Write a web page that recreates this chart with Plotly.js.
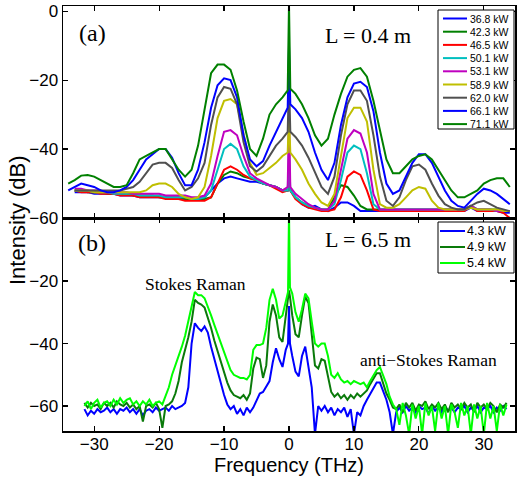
<!DOCTYPE html>
<html>
<head>
<meta charset="utf-8">
<script src="https://cdn.plot.ly/plotly-3.0.1.min.js"></script>
<style>
html,body{margin:0;padding:0;background:#fff;}
#chart{width:517px;height:477px;}
</style>
</head>
<body>
<div id="chart"></div>
<script>
// ---------- Panel (a): L = 0.4 m ----------
const FREQ_A = [-34,-33,-32,-31,-30,-29,-28,-27,-26,-25,-24,-23,-22,-21,-20,-19,-18,-17,-16,-15,-14,-13,-12,-11,-10,-9,-8,-7,-6,-5,-4,-3,-2,-1,-0.2,0,0.2,1,2,3,4,5,6,7,8,9,10,11,12,13,14,15,16,17,18,19,20,21,22,23,24,25,26,27,28,29,30,31,32,33,34];

const P36_8 = [null,-52.5,-52.5,-52.5,-53,-53,-53,-53,-53.5,-53.5, -53.5,-54,-54,-54,-54,-54,-54.5,-54.5,-54.5,-54.5, -54.5,-54,-52,-50,-48.5,-48,-48.5,-49,-49.5,-49.5, -50,-50.5,-51,-52, -52,-50,-52, -54,-56,-57,-56.5,-57.5,-58,-57,-55.5,-55.5,-56.5, -58,-58,-58,-58,-58,-58,-58,-58,-58,-58, -58,-58,-58,-58,-58,-58,-58,-57,-58,-58, -58,-58,-58.5,-58.5];
const P42_3 = [null,-52,-52,-52.5,-52.5,-52.5,-53,-53,-53,-53, -53.5,-53.5,-53.5,-53.5,-54,-54,-54,-54,-54.5,-54.5, -54.5,-54.5,-54,-50,-47.5,-46.5,-47,-48,-48.5,-49, -50,-50.5,-51,-52, -52,-48,-52, -54,-55.5,-56.5,-57,-57.5,-57.5,-54,-50.5,-51,-53.5, -56.5,-57.5,-57.5,-57.5,-57.5,-57.5,-57.5,-57.5,-57.5,-57.5, -57.5,-57.5,-57.5,-57.5,-57.5,-57.5,-57.5,-56.5,-57.5,-57.5, -57.5,-57.5,-58,-58];
const P46_5 = [null,-52,-52.5,-52.5,-52.5,-53,-53,-53,-53.5,-53.5, -53.5,-54,-54,-54,-54,-54.5,-54.5,-54.5,-55,-55, -55,-55,-54,-50,-46,-45,-46,-47.5,-48.5,-49, -50,-50.5,-51.5,-52.5, -52,-45,-52, -54.5,-56,-57,-57.5,-58,-58,-57.5,-54,-48,-46.5, -47.5,-52,-57.5,-58,-58,-58,-58,-58,-58,-58, -58,-58,-58,-58,-58,-58,-58,-56.5,-58,-58, -58,-58,-58.5,-60];
const P50_1 = [null,-52,-52,-52,-52.5,-52.5,-52.5,-53,-53,-53, -53,-53.5,-53.5,-53.5,-53.5,-54,-54,-54,-54,-54.5, -54.5,-54,-52,-46,-40,-38.5,-40,-45,-48,-49, -50,-50.5,-51,-52, -52,-40,-52, -54,-55.5,-56.5,-57,-57.5,-57.5,-56,-49,-41,-39, -40,-47,-56,-57.5,-57.5,-57.5,-57.5,-57.5,-57.5,-57.5, -57.5,-57.5,-57.5,-57.5,-57.5,-57.5,-57.5,-56.5,-57.5,-57.5, -57.5,-58,-58,-58];
const P53_1 = [null,-51.5,-51.5,-52,-52,-52,-52.5,-52.5,-52.5,-52.5, -53,-53,-53,-53,-53,-53.5,-53.5,-53.5,-53.5,-54, -54,-53.5,-50,-42,-35,-34.5,-36,-42,-47,-48.5, -49.5,-50.5,-51,-52, -51,-30,-51, -53,-54.5,-56,-57,-57.5,-57.5,-55,-46,-37,-34.5, -35.5,-41,-53,-57.5,-57.5,-57.5,-57.5,-57.5,-57.5,-57.5, -57.5,-57.5,-57.5,-57.5,-57.5,-57.5,-57.5,-56.5,-57.5,-57.5, -57.5,-58,-58,-58];
const P58_9 = [null,-52,-52,-52,-52.5,-52.5,-52.5,-52.5,-52.5,-52.5, -52.5,-52.5,-52,-50.5,-50,-50,-51,-53,-54,-54.5, -54,-51,-42,-31,-26,-25.5,-27,-36,-44,-47.5, -47,-45.5,-44,-42, -41,-30,-41, -43,-46,-50,-53,-55.5,-56.5,-53,-42,-31,-28, -28,-32,-46,-56,-57,-57,-56,-54,-52,-51, -51.5,-55,-57,-57.5,-57.5,-57.5,-57.5,-57,-57.5,-57.5, -57.5,-57.5,-58,-58];
const P62_0 = [null,-52,-52,-52,-52,-52,-52,-52,-52,-51.5, -51,-49.5,-47,-44.5,-44,-44,-45.5,-49,-52,-51, -48.5,-44,-33,-25,-22,-22.5,-27,-38,-45,-46.5, -45,-42,-39,-37, -35,-20,-35, -36.5,-39,-42.5,-47,-51,-53,-48,-36,-27,-23, -23,-26,-36,-48,-55,-56.5,-54,-49,-45,-44.5, -46,-50,-53.5,-56,-57,-57.5,-57.5,-56.5,-55.5,-55, -56,-57,-57.5,-58];
const P66_1 = [-52,-51,-50,-50.5,-51,-52,-52.5,-52.5,-52,-51, -49,-46,-43,-41.5,-40,-40,-42.5,-47,-50.5,-50.5, -46,-38,-28,-21.5,-19.5,-20,-25,-36,-43,-45, -43.5,-39,-35,-31, -28,-10,-27, -28.5,-31,-35,-41,-46,-49,-44,-33,-25,-21, -20.5,-22,-29,-41,-50,-53,-52,-48,-44,-41.5, -41.5,-44,-48,-52,-55,-56.5,-57,-55,-53,-51.5, -52,-53,-54.5,-56];
const P71_1 = [-50,-49,-47.7,-47.5,-48,-49,-50,-51,-51,-50.5, -47,-43,-42,-41,-40,-40,-43,-46,-48,-46, -39,-28,-18,-15.5,-15.5,-17,-23,-32,-40,-42, -37,-30,-27,-25, -23,2,-22.5, -24,-27,-31,-36,-39,-37,-30,-24,-19,-17, -16.5,-19,-26,-35,-43,-47,-47,-45,-43,-42, -41.5,-43,-46,-49,-52,-54,-54,-53,-52,-50, -49,-48.5,-48.5,-51];

const LABELS_A = ['36.8 kW','42.3 kW','46.5 kW','50.1 kW','53.1 kW','58.9 kW','62.0 kW','66.1 kW','71.1 kW'];
const COLORS_A = ['#0000ff','#008000','#ff0000','#00bfbf','#bf00bf','#bfbf00','#505050','#0000ff','#008000'];
const SERIES_A = [P36_8,P42_3,P46_5,P50_1,P53_1,P58_9,P62_0,P66_1,P71_1];

// ---------- Panel (b): L = 6.5 m ----------
const FREQ_B = [-31.5,-31,-30.5,-30,-29.5,-29,-28.5,-28,-27.5,-27,-26.5,-26,-25.5,-25,-24.5,-24,-23.5,-23,-22.5,-22,-21.5,-21,-20.5,-20,-19.5,
 -19,-18.5,-18,-17.5,-17,-16.5,-16,-15.5,-15,-14.5,-14,-13.5,-13,-12.5,-12,-11.5,-11,-10.5,-10,-9.5,-9,-8.5,-8,-7.5,-7,-6.5,-6,-5.5,-5,-4.5,-4,-3.5,-3,-2.5,-2,-1.5,-1,-0.5,
 -0.15,0,0.15,
 0.5,1,1.5,2,2.5,3,3.5,4,4.5,5,5.5,6,6.5,7,7.5,8,8.5,9,9.5,10,10.5,11,11.5,12,12.5,13,13.5,14,14.5,15,15.5,16,16.5,17,17.5,18,18.5,19,19.5,20,
 20.5,21,21.5,22,22.5,23,23.5,24,24.5,25,25.5,26,26.5,27,27.5,28,28.5,29,29.5,30,30.5,31,31.5,32,32.5,33,33.5];

const B4_3 = [-61,-63,-61.5,-62.5,-61,-62,-61.5,-60.5,-62,-61,-62.5,-61,-61.5,-60.5,-62,-61,-62.5,-61,-63,-61.5,-61,-62,-60.5,-61.5,-61,
 -60.5,-61.5,-60,-61,-60.5,-60,-59,-54,-40,-33.5,
 -35,-36,-34.5,-36.5,-41,-45,-49,-53,-56.5,-59.5,
 -61,-60,-62.5,-61,-63,-60.5,-62,-60.5,-58,-56,
 -55.5,-53.5,-52,-46,-41.5,-45,-47.5,-42,
 -40,-28,-40,
 -44,-49,-50.5,-44,-41,-47,-54,-69,-60,-61.5,
 -60,-62,-60.5,-63,-61,-62,-60.5,-63.5,-61,-69,
 -62,-63,-60,-58,-56,-54.5,-52.5,-52.5,-55,-58,
 -62,-69,-62,-60.5,-62,-60,-61.5,-60.5,-62,-60,
 -61,-60.5,-62.5,-60,-61.5,-60.5,-62,-60,-61.5,-60.5,
 -62,-60.5,-61,-60,-62,-60.5,-61.5,-60,-62,-60.5,
 -61,-60,-62,-60.5,-61.5,-60,-61];
const B4_9 = [-59,-60.5,-59,-60,-59.5,-61,-59,-60,-59,-60.5,-58.5,-59.5,-60,-59,-60.5,-59.5,-61,-60,-65,-60,-59.5,-60.5,-59,-61,-67,
 -60,-59.5,-58.5,-56,-52,-46,-42,-38,-33,-26,
 -27,-27.5,-28.5,-31.5,-35,-39,-42.5,-46,-49.5,-52.5,
 -55,-56.5,-57,-57.5,-56.5,-58,-56,-48,-44.5,-45,
 -51,-47,-33,-27.5,-31,-38,-39.5,-32,
 -25,-23,-25,
 -31,-37,-38,-31,-25,-27,-36,-47,-48,-45,
 -45.5,-51,-55.5,-57,-56,-57.5,-56.5,-58,-56.5,-57.5,
 -56,-57,-56,-55,-53,-51,-49.5,-49.5,-53,-56,
 -58,-60.5,-61,-59.5,-62,-59,-60.5,-59,-61.5,-59.5,
 -60,-58.5,-61,-59.5,-60.5,-59,-61,-59.5,-62,-59,
 -60.5,-59.5,-61,-59,-60.5,-59.5,-62,-59,-60.5,-59.5,
 -61,-59,-60,-62,-59.5,-60.5,-59];
const B5_4 = [-60,-58.5,-61,-59,-58,-60.5,-59,-58.5,-60,-58,-59.5,-57.5,-59,-58,-57.5,-59.5,-58.5,-60,-58.5,-59.5,-58,-60,-59,-58.5,-59.5,
 -57,-54,-50,-47,-44.5,-41,-37.5,-33,-29,-23.5,
 -24.5,-24.5,-25.5,-28,-31,-34,-37,-40,-43,-46,
 -48.5,-50,-50.5,-51,-51,-51.5,-50,-42,-40.5,-40.5,
 -40,-35,-26,-22.5,-26,-32,-31,-26,
 -23.5,2,-22,
 -24,-30,-33,-29,-24,-25.5,-33,-40,-41,-40,
 -40,-44,-50,-51,-49.5,-51.5,-52.5,-52,-53,-52,
 -52.5,-53,-52.5,-54,-52,-50,-48.5,-47.5,-50,-53,
 -57,-59.5,-61,-66,-59,-63,-69,-59.5,-64,-60,
 -69,-59,-63,-60,-68,-59,-64,-60,-69,-59.5,
 -62,-67,-59,-63,-60,-69,-59.5,-64,-60,-69,
 -59,-64,-60,-68,-59.5,-63,-59.5];

const LABELS_B = ['4.3 kW','4.9 kW','5.4 kW'];
const COLORS_B = ['#0000ff','#0a7a0a','#00ff00'];
const SERIES_B = [B4_3,B4_9,B5_4];

const X_TICKS = [-30,-20,-10,0,10,20,30];

// ---------- geometry helpers (pixel -> paper) ----------
const L = 63, R = 515, T = 6, B = 431;
const px = x => (x - L) / (R - L);
const py = y => (B - y) / (B - T);
const SPLIT = py(218);

const traces = [];
SERIES_A.forEach((s, i) => traces.push({
  x: FREQ_A, y: s, type: 'scatter', mode: 'lines', xaxis: 'x', yaxis: 'y',
  name: LABELS_A[i], showlegend: false, line: {color: COLORS_A[i], width: 2}
}));
SERIES_B.forEach((s, i) => traces.push({
  x: FREQ_B, y: s, type: 'scatter', mode: 'lines', xaxis: 'x2', yaxis: 'y2',
  name: LABELS_B[i], showlegend: false, line: {color: COLORS_B[i], width: 2}
}));

const sans = 'Liberation Sans, Arial, Helvetica, sans-serif';
const serif = 'Liberation Serif, Times New Roman, serif';

const axisCommon = {
  showline: true, linecolor: '#000', linewidth: 1.5, mirror: 'ticks',
  ticks: 'inside', ticklen: 5, tickwidth: 1.2, tickcolor: '#000',
  showgrid: false, zeroline: false,
  tickfont: {family: sans, size: 17, color: '#000'}
};

const shapes = [];
const annotations = [];

// legend (a)
shapes.push({type: 'rect', xref: 'paper', yref: 'paper', x0: px(438), x1: px(514), y0: py(129), y1: py(10),
  line: {color: '#000', width: 1}, fillcolor: '#fff'});
LABELS_A.forEach((lab, i) => {
  const yy = 18.5 + 13.2 * i;
  shapes.push({type: 'line', xref: 'paper', yref: 'paper', x0: px(443), x1: px(467), y0: py(yy), y1: py(yy),
    line: {color: COLORS_A[i], width: 2}});
  annotations.push({xref: 'paper', yref: 'paper', x: px(468), y: py(yy), xanchor: 'left', yanchor: 'middle',
    text: lab, showarrow: false, font: {family: sans, size: 10.5, color: '#000'}});
});
// legend (b)
shapes.push({type: 'rect', xref: 'paper', yref: 'paper', x0: px(438), x1: px(514), y0: py(273), y1: py(222),
  line: {color: '#000', width: 1}, fillcolor: '#fff'});
LABELS_B.forEach((lab, i) => {
  const yy = 231 + 16 * i;
  shapes.push({type: 'line', xref: 'paper', yref: 'paper', x0: px(440), x1: px(465), y0: py(yy), y1: py(yy),
    line: {color: COLORS_B[i], width: 2}});
  annotations.push({xref: 'paper', yref: 'paper', x: px(465), y: py(yy), xanchor: 'left', yanchor: 'middle',
    text: lab, showarrow: false, font: {family: sans, size: 12.5, color: '#000'}});
});

// text labels
const txt = (t, x, y, size, fam) => annotations.push({xref: 'paper', yref: 'paper', x: px(x), y: py(y),
  xanchor: 'center', yanchor: 'middle', text: t, showarrow: false, font: {family: fam, size: size, color: '#000'}});
txt('(a)', 92, 33, 24, serif);
txt('L = 0.4 m', 368, 35, 22, serif);
txt('(b)', 92, 243, 24, serif);
txt('L = 6.5 m', 368, 240, 22, serif);
txt('Stokes Raman', 195, 284, 17.5, serif);
txt('anti\u2212Stokes Raman', 428, 360, 17.5, serif);
annotations.push({xref: 'paper', yref: 'paper', x: px(17), y: py(220), xanchor: 'center', yanchor: 'middle',
  text: 'Intensity (dB)', textangle: -90, showarrow: false, font: {family: sans, size: 22, color: '#000'}});

const layout = {
  width: 517, height: 477,
  margin: {l: L, r: 517 - R, t: T, b: 477 - B, pad: 0},
  paper_bgcolor: '#fff', plot_bgcolor: '#fff',
  showlegend: false,
  xaxis: Object.assign({}, axisCommon, {domain: [0, 1], anchor: 'y', range: [-34.8, 34.8],
    tickvals: X_TICKS, showticklabels: false}),
  yaxis: Object.assign({}, axisCommon, {domain: [SPLIT, 1], anchor: 'x', range: [-60, 1.5],
    tickvals: [-60, -40, -20, 0]}),
  xaxis2: Object.assign({}, axisCommon, {domain: [0, 1], anchor: 'y2', range: [-34.8, 34.8],
    tickvals: X_TICKS, ticklabelstandoff: -3,
    title: {text: 'Frequency (THz)', font: {family: sans, size: 20, color: '#000'}, standoff: 2}}),
  yaxis2: Object.assign({}, axisCommon, {domain: [0, SPLIT], anchor: 'x2', range: [-68, 0.2],
    tickvals: [-60, -40, -20]}),
  shapes: shapes,
  annotations: annotations
};

Plotly.newPlot('chart', traces, layout, {displayModeBar: false, staticPlot: true});
</script>
</body>
</html>
